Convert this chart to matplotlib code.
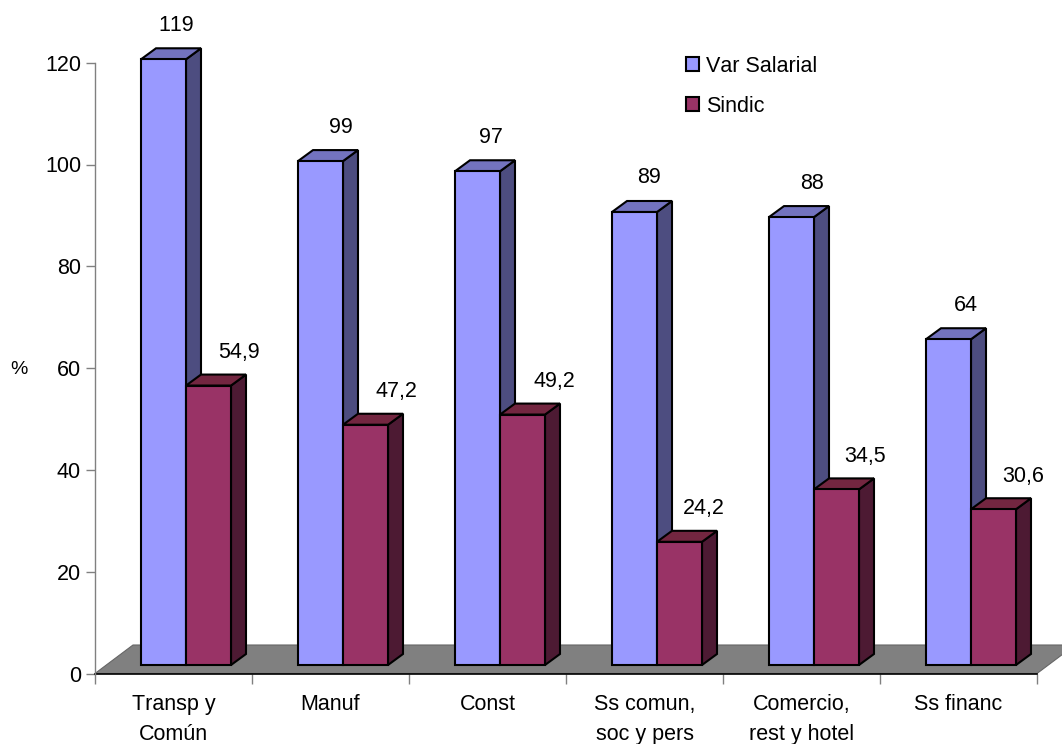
import matplotlib
matplotlib.use("Agg")
import matplotlib.pyplot as plt
from matplotlib.patches import Polygon, Patch

plt.rcParams['font.family'] = ['Liberation Sans', 'DejaVu Sans']
plt.rcParams['text.kerning_factor'] = 6

categorias = ['Transp y\nComún', 'Manuf', 'Const', 'Ss comun,\nsoc y pers',
              'Comercio,\nrest y hotel', 'Ss financ']
var_salarial = [119, 99, 97, 89, 88, 64]
sindic = [54.9, 47.2, 49.2, 24.2, 34.5, 30.6]
etiq_var = ['119', '99', '97', '89', '88', '64']
etiq_sindic = ['54,9', '47,2', '49,2', '24,2', '34,5', '30,6']
yticks = [0, 20, 40, 60, 80, 100, 120]

# corrimiento horizontal de cada etiqueta respecto del centro de su barra (px)
dx_var = [13, 20, 13, 14, 20, 17]
dx_sindic = [30, 31, 32, 24, 29, 30]

W, H = 1062, 744
FS = 15.5
LW = 1.5

# colores: frente, costado, tapa
AZUL = ('#9999ff', '#4d4d80', '#7373bf')
BORDO = ('#993366', '#4d1a33', '#732640')

fig = plt.figure(figsize=(W / 100, H / 100), dpi=100)
ax = fig.add_axes([95 / W, (H - 673.5) / H, 942 / W, 610.8 / H])
ax.set_xlim(0, 6)
ax.set_ylim(0, 120)

# pasar de pixeles a unidades de datos
ux = 6 / 942
uy = 120 / 610.8
prof_x, prof_y = 15 * ux, 11 * uy
base = 8.5 * uy
ancho = 45 * ux
margen = 46 * ux


def barra3d(x, valor, colores):
    y0, y1 = base, base + valor
    ax.add_patch(Polygon([(x + ancho, y0), (x + ancho + prof_x, y0 + prof_y),
                          (x + ancho + prof_x, y1 + prof_y), (x + ancho, y1)],
                         fc=colores[1], ec='k', lw=LW, clip_on=False, zorder=3))
    ax.add_patch(Polygon([(x, y1), (x + ancho, y1),
                          (x + ancho + prof_x, y1 + prof_y), (x + prof_x, y1 + prof_y)],
                         fc=colores[2], ec='k', lw=LW, clip_on=False, zorder=3))
    ax.add_patch(Polygon([(x, y0), (x + ancho, y0), (x + ancho, y1), (x, y1)],
                         fc=colores[0], ec='k', lw=LW, clip_on=False, zorder=3))


# piso gris
ax.add_patch(Polygon([(0, 0), (6, 0), (6 + 38 * ux, 28.5 * uy), (38 * ux, 28.5 * uy)],
                     fc='#808080', ec='#666666', lw=0.8, clip_on=False, zorder=1))

for i in range(len(categorias)):
    x1 = i + margen
    x2 = x1 + ancho
    barra3d(x1, var_salarial[i], AZUL)
    barra3d(x2, sindic[i], BORDO)
    ax.annotate(etiq_var[i], (x1 + ancho / 2, base + var_salarial[i]),
                xytext=(dx_var[i], 34), textcoords='offset pixels',
                ha='center', va='center', fontsize=FS, zorder=5, annotation_clip=False)
    ax.annotate(etiq_sindic[i], (x2 + ancho / 2, base + sindic[i]),
                xytext=(dx_sindic[i], 33), textcoords='offset pixels',
                ha='center', va='center', fontsize=FS, zorder=5, annotation_clip=False)

for lado in ['top', 'right']:
    ax.spines[lado].set_visible(False)
ax.spines['left'].set_color('#808080')
ax.spines['left'].set_linewidth(1.0)
ax.spines['bottom'].set_color('k')
ax.spines['bottom'].set_linewidth(1.2)
ax.spines['bottom'].set_zorder(2)

ax.set_yticks(yticks)
ax.tick_params(axis='y', length=6.5, width=1.0, color='#808080', labelsize=FS, pad=3.5)
ax.set_xticks(range(7))
ax.set_xticklabels([])
ax.tick_params(axis='x', which='major', length=7, width=1.0, color='#808080')
ax.set_xticks([i + 0.5 for i in range(6)], minor=True)
ax.set_xticklabels(categorias, minor=True, fontsize=FS, linespacing=1.52)
ax.tick_params(axis='x', which='minor', length=0, pad=15)

fig.text(19 / W, 1 - 369 / H, '%', fontsize=14, ha='center', va='center')

leyenda = [Patch(fc=AZUL[0], ec='k', lw=LW, label='Var Salarial'),
           Patch(fc=BORDO[0], ec='k', lw=LW, label='Sindic')]
fig.legend(handles=leyenda, loc='upper left', bbox_to_anchor=(686 / W, 1 - 56 / H),
           bbox_transform=fig.transFigure, frameon=False, fontsize=FS,
           handlelength=0.62, handleheight=0.62, handletextpad=0.3,
           labelspacing=0.88, borderaxespad=0, borderpad=0)

fig.savefig('out.png', dpi=100, facecolor='white')
